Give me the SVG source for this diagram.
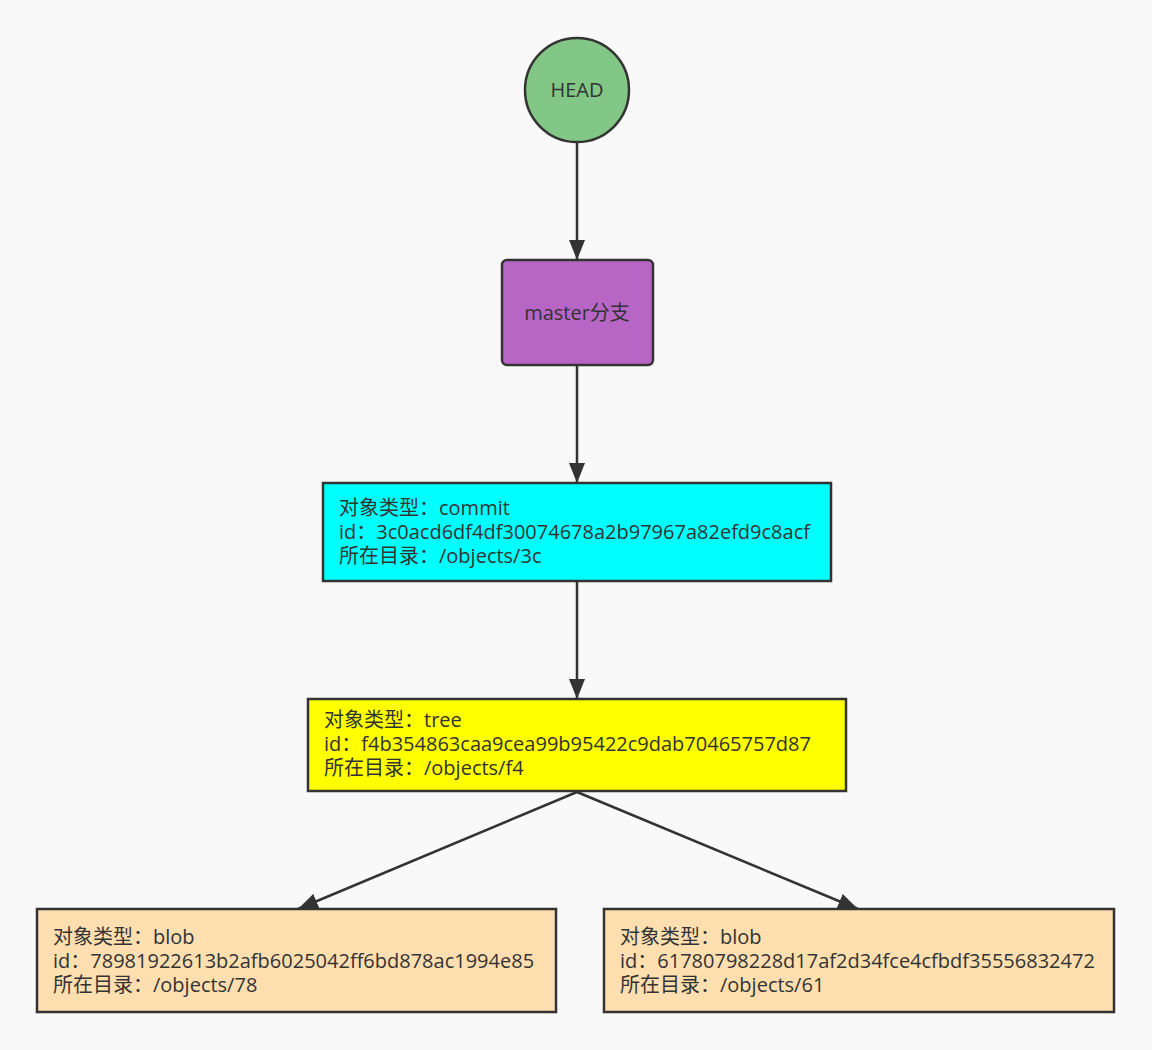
<svg xmlns="http://www.w3.org/2000/svg" width="1152" height="1050" viewBox="0 0 1152 1050">
<defs>
<marker id="arr" viewBox="0 0 20 16" refX="20" refY="8" markerWidth="20" markerHeight="16" markerUnits="userSpaceOnUse" orient="auto">
<path d="M0,0 L20,8 L0,16 Z" fill="#333"/>
</marker>
</defs>
<style>
.n{stroke:#333;stroke-width:2.5}
.t{font-family:"Open Sans","Noto Sans CJK SC",sans-serif;font-size:20px;fill:#333}
.c{text-anchor:middle}
.e{stroke:#333;stroke-width:2.5;fill:none;marker-end:url(#arr)}
</style>
<rect width="1152" height="1050" fill="#f9f9f9"/>
<g id="connectors">
<line class="e" x1="577" y1="143" x2="577" y2="260"/>
<line class="e" x1="577" y1="366" x2="577" y2="483"/>
<line class="e" x1="577" y1="582" x2="577" y2="699"/>
<line class="e" x1="577" y1="792" x2="298" y2="909"/>
<line class="e" x1="577" y1="792" x2="858" y2="909"/>
</g>
<g id="head">
<circle class="n" cx="577" cy="90" r="52" fill="#82c785"/>
<text class="t c" x="577" y="97">HEAD</text>
</g>
<g id="master">
<rect class="n" x="502" y="260" width="151" height="105" rx="5" fill="#b866c6"/>
<text class="t c" x="577" y="320">master分支</text>
</g>
<g id="commit">
<rect class="n" x="323" y="483" width="508" height="98" fill="#00ffff"/>
<text class="t" x="339" y="515">对象类型：commit</text>
<text class="t" x="339" y="539">id：3c0acd6df4df30074678a2b97967a82efd9c8acf</text>
<text class="t" x="339" y="563">所在目录：/objects/3c</text>
</g>
<g id="tree">
<rect class="n" x="308" y="699" width="538" height="92" fill="#ffff00"/>
<text class="t" x="324" y="727">对象类型：tree</text>
<text class="t" x="324" y="751">id：f4b354863caa9cea99b95422c9dab70465757d87</text>
<text class="t" x="324" y="775">所在目录：/objects/f4</text>
</g>
<g id="blob1">
<rect class="n" x="37" y="909" width="519" height="103" fill="#ffdfb0"/>
<text class="t" x="53" y="944">对象类型：blob</text>
<text class="t" x="53" y="968">id：78981922613b2afb6025042ff6bd878ac1994e85</text>
<text class="t" x="53" y="992">所在目录：/objects/78</text>
</g>
<g id="blob2">
<rect class="n" x="604" y="909" width="510" height="103" fill="#ffdfb0"/>
<text class="t" x="620" y="944">对象类型：blob</text>
<text class="t" x="620" y="968">id：61780798228d17af2d34fce4cfbdf35556832472</text>
<text class="t" x="620" y="992">所在目录：/objects/61</text>
</g>
</svg>
